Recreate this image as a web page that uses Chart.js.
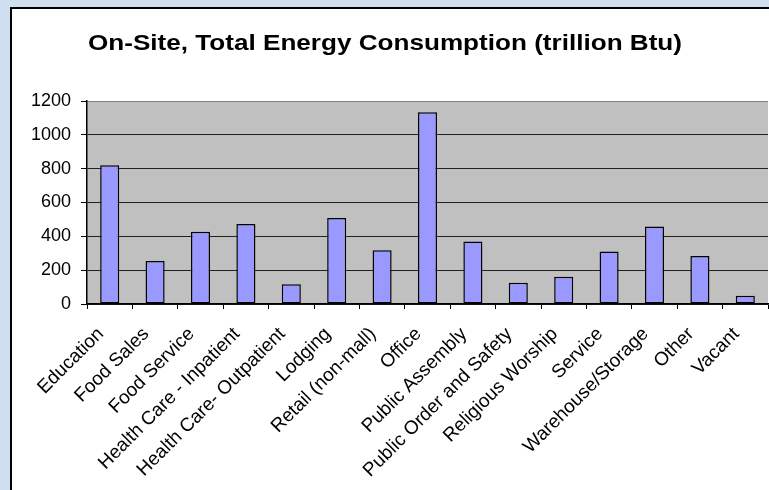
<!DOCTYPE html>
<html>
<head>
<meta charset="utf-8">
<script src="https://cdn.jsdelivr.net/npm/chart.js@4/dist/chart.umd.min.js"></script>
<style>
  html, body { margin: 0; padding: 0; }
  body { width: 769px; height: 490px; background: #cfdff0; position: relative; overflow: hidden; }
  #frame {
    position: absolute; left: 10px; top: 7px; right: 0; bottom: 0;
    background: #fff; border-left: 2px solid #000; border-top: 2px solid #000;
  }
  #wrap { position: absolute; left: 0; top: 0; width: 757px; height: 481px; }
</style>
</head>
<body>
<div id="frame"><div id="wrap"><canvas id="chart"></canvas></div></div>
<script>
// data
const categories = [
  'Education', 'Food Sales', 'Food Service', 'Health Care - Inpatient',
  'Health Care- Outpatient', 'Lodging', 'Retail (non-mall)', 'Office',
  'Public Assembly', 'Public Order and Safety', 'Religious Worship',
  'Service', 'Warehouse/Storage', 'Other', 'Vacant'
];
const consumption = [820, 254, 427, 473, 117, 509, 318, 1133, 369, 125, 161, 310, 458, 284, 49];
const titleText = 'On-Site, Total Energy Consumption (trillion Btu)';
const yMin = 0;
const yMax = 1200;
const yStep = 200;

const FONT = '"Liberation Sans", Arial, sans-serif';
const BAR_FILL = '#9999ff';
const PLOT_BG = '#c0c0c0';

// gray plot background + stretched title, like the Excel original
const excelLook = {
  id: 'excelLook',
  beforeDraw(chart) {
    const { ctx, chartArea: a } = chart;
    ctx.save();
    ctx.fillStyle = PLOT_BG;
    ctx.fillRect(a.left, a.top, a.right - a.left, a.bottom - a.top);
    ctx.restore();
  },
  afterDraw(chart) {
    const ctx = chart.ctx;
    ctx.save();
    ctx.font = 'bold 22px ' + FONT;
    ctx.fillStyle = '#000';
    ctx.textAlign = 'center';
    ctx.textBaseline = 'middle';
    const w = ctx.measureText(titleText).width;
    ctx.translate(373, 35);
    ctx.scale(594 / w, 1);
    ctx.fillText(titleText, 0, 0);
    ctx.restore();
  }
};

new Chart(document.getElementById('chart'), {
  type: 'bar',
  data: {
    labels: categories,
    datasets: [{
      data: consumption,
      backgroundColor: BAR_FILL,
      borderColor: '#000',
      borderWidth: 1.5,
      borderSkipped: false,
      categoryPercentage: 1,
      barPercentage: 0.42
    }]
  },
  options: {
    responsive: true,
    maintainAspectRatio: false,
    animation: false,
    layout: { padding: { top: 92, right: 1, bottom: 0, left: 0 } },
    plugins: {
      legend: { display: false },
      title: { display: false },
      tooltip: { enabled: false }
    },
    scales: {
      x: {
        offset: true,
        afterFit(scale) {
          scale.height = 186;
          scale.paddingLeft = 0;
          scale.paddingRight = 0;
        },
        border: { color: '#000', width: 1.5 },
        grid: {
          offset: true,
          drawOnChartArea: false,
          drawTicks: true,
          tickLength: 5,
          color: '#000'
        },
        ticks: {
          autoSkip: false,
          minRotation: 45,
          maxRotation: 45,
          padding: 14,
          labelOffset: -9,
          color: '#000',
          font: { family: FONT, size: 19 }
        }
      },
      y: {
        min: yMin,
        max: yMax,
        afterFit(scale) { scale.width = 75; },
        border: { color: '#000', width: 1.5 },
        grid: {
          color: ctx => ctx.tick && ctx.tick.value === yMax ? '#808080' : '#222',
          lineWidth: 1,
          tickLength: 6,
          tickColor: '#000'
        },
        ticks: {
          stepSize: yStep,
          padding: 10,
          color: '#000',
          font: { family: FONT, size: 18 },
          callback: v => String(v)
        }
      }
    }
  },
  plugins: [excelLook]
});
</script>
</body>
</html>
